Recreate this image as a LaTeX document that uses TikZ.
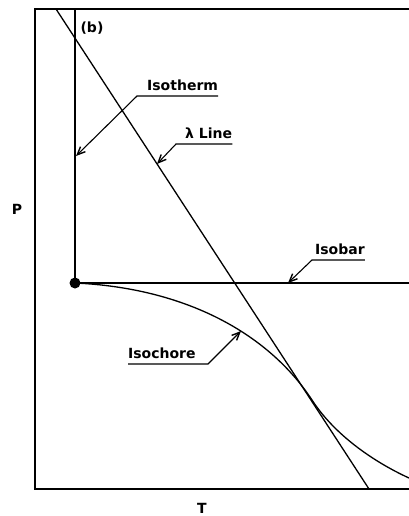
\documentclass[tikz,border=0pt]{standalone}
\usepackage{fontspec}
\setmainfont{DejaVu Sans}
\usetikzlibrary{arrows.meta}

\begin{document}
\begin{tikzpicture}[
    x=1pt,y=-1pt,
    font=\bfseries\fontsize{14}{16}\selectfont,
    frame/.style={draw=black,line width=1.5pt},
    curve/.style={draw=black,line width=1.3pt},
    leader/.style={draw=black,line width=1.1pt},
    arrow/.style={leader,-{Straight Barb[length=8pt,width=7pt,line width=1.4pt]}},
    tag/.style={inner xsep=0pt,inner ysep=5pt,anchor=south west}
]
\useasboundingbox (0,0) rectangle (409,516);
% axes
\draw[frame] (409,9) -- (35,9) -- (35,489) -- (409,489);
\node (P) at (17,209) {P};
\node[inner sep=0pt] (T) at (202,508) {T};
\node (b) at (92,28) {(b)};
% curves
\coordinate (top) at (75,9);
\node[circle,fill=black,inner sep=0pt,minimum size=11pt] (dot) at (75,283) {};
\coordinate (isobarEnd) at (409,283);
\coordinate (lamTop) at (56,9);
\coordinate (lamBot) at (369,489);
\draw[curve] (top) -- (dot.center);
\draw[curve] (dot.center) -- (isobarEnd);
\draw[curve] (lamTop) -- (lamBot);
\draw[curve] (dot.center) .. controls (185,288) and (268,333) .. (312,400)
    .. controls (334,434) and (372,461) .. (409,478);
% labels
\node[tag] (isotherm) at (147,96) {Isotherm};
\coordinate (kIsotherm) at (137,96);
\coordinate (tIsotherm) at (76,156);
\draw[arrow] (isotherm.south east) -- (kIsotherm) -- (tIsotherm);

\node[tag] (lambda) at (185,144) {λ Line};
\coordinate (kLambda) at (176,144);
\coordinate (tLambda) at (157,164);
\draw[arrow] (lambda.south east) -- (kLambda) -- (tLambda);

\node[tag] (isobar) at (315,260) {Isobar};
\coordinate (kIsobar) at (312,260);
\coordinate (tIsobar) at (288,283);
\draw[arrow] (isobar.south east) -- (kIsobar) -- (tIsobar);

\node[tag] (isochore) at (128,364) {Isochore};
\coordinate (kIsochore) at (208,364);
\coordinate (tIsochore) at (241,331);
\draw[arrow] (isochore.south west) -- (kIsochore) -- (tIsochore);
\end{tikzpicture}
\end{document}
